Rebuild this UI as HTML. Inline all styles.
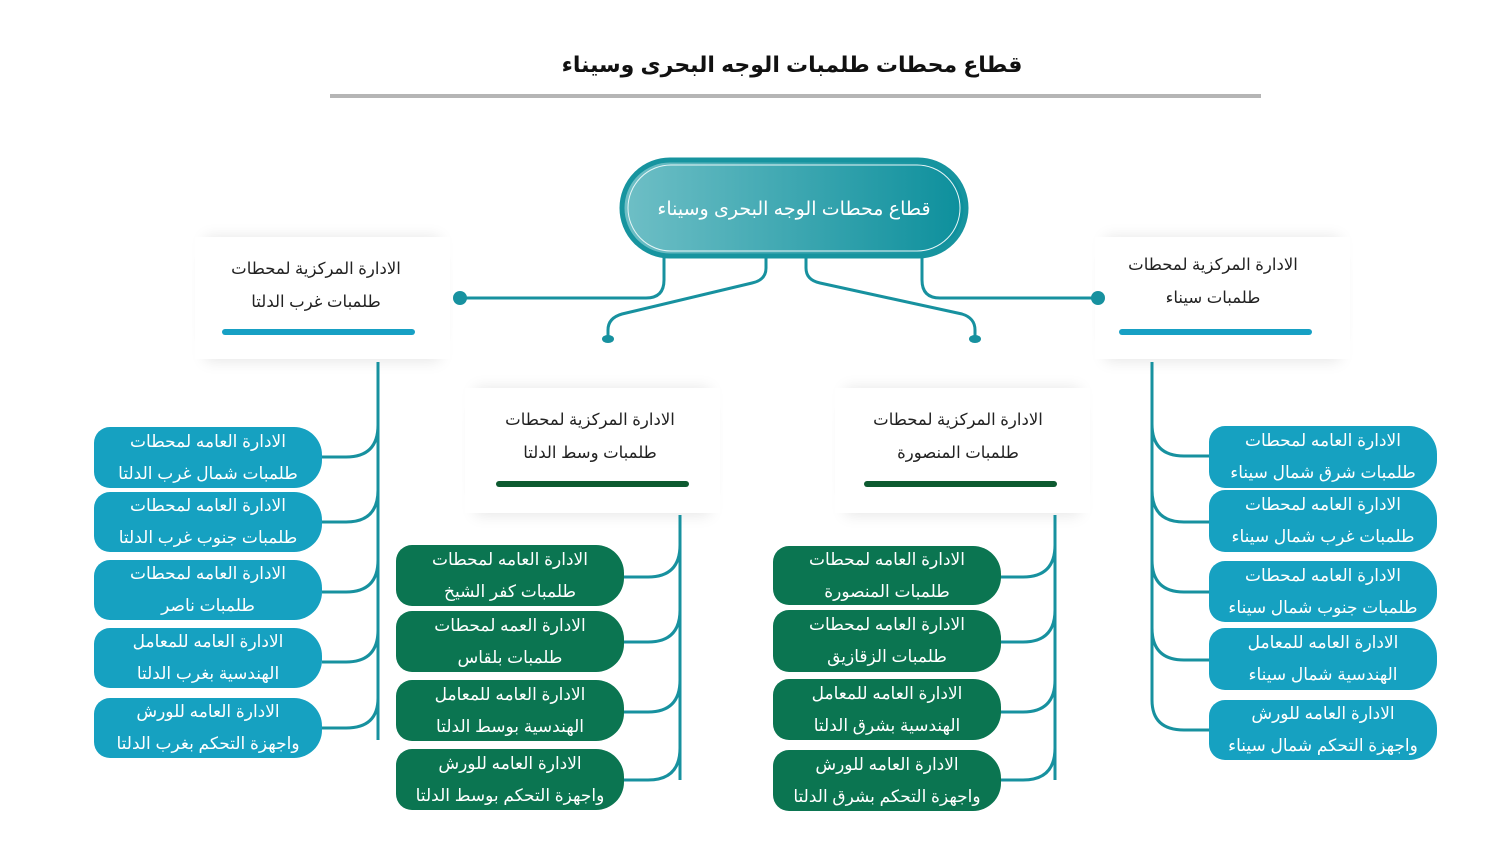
<!DOCTYPE html>
<html><head><meta charset="utf-8"><style>
body{margin:0;width:1500px;height:844px;background:#fff;position:relative;overflow:hidden;font-family:"Liberation Sans","DejaVu Sans",sans-serif}
.a{position:absolute}
.b{position:absolute;width:228px;color:#fff;font-size:17px;line-height:32px;text-align:center;border-radius:16px 28px 28px 16px;direction:rtl;display:flex;flex-direction:column;justify-content:center}
.bl{background:#16a1c1}.gr{background:#0b7551}
.h{position:absolute;text-align:center;direction:rtl;font-size:16.5px;line-height:33px;color:#222}
.panel{position:absolute;background:#fff;box-shadow:0 -10px 14px -10px rgba(0,0,0,.10),0 12px 14px -10px rgba(0,0,0,.10)}
.bar{position:absolute;height:6px;border-radius:3px}
</style></head><body>
<div class="a" style="left:0;width:1584px;top:52px;text-align:center;font-size:22px;font-weight:bold;direction:rtl;color:#111">قطاع محطات طلمبات الوجه البحرى وسيناء</div>
<div class="a" style="left:330px;top:94px;width:931px;height:4px;background:#b5b5b5"></div>

<div class="panel" style="left:195px;top:237px;width:255px;height:122px"></div>
<div class="panel" style="left:1095px;top:237px;width:255px;height:122px"></div>
<div class="panel" style="left:465px;top:388px;width:255px;height:125px"></div>
<div class="panel" style="left:835px;top:388px;width:255px;height:125px"></div>

<svg class="a" style="left:0;top:0" width="1500" height="844">
<defs><linearGradient id="g" x1="0" x2="1"><stop offset="0" stop-color="#6fbfc6"/><stop offset="1" stop-color="#0c8f9c"/></linearGradient></defs>
<g fill="none" stroke="#17919f" stroke-width="3">
<path d="M664 257 V280 Q664 298 646 298 H460"/>
<path d="M766 257 V268 Q766 280 752 283 L622 314 Q608 318 608 330 V339"/>
<path d="M806 257 V268 Q806 280 820 283 L962 314 Q975 318 975 330 V339"/>
<path d="M922 257 V280 Q922 298 940 298 H1098"/>
<path d="M378 362 V740"/>
<path d="M378 425 Q378 457 346 457 H322 M378 490 Q378 522 346 522 H322 M378 560 Q378 592 346 592 H322 M378 630 Q378 662 346 662 H322 M378 698 Q378 728 346 728 H322"/>
<path d="M680 515 V780"/>
<path d="M680 545 Q680 577 648 577 H624 M680 610 Q680 642 648 642 H624 M680 680 Q680 712 648 712 H624 M680 748 Q680 780 648 780 H624"/>
<path d="M1055 515 V780"/>
<path d="M1055 545 Q1055 577 1023 577 H1000 M1055 610 Q1055 642 1023 642 H1000 M1055 680 Q1055 712 1023 712 H1000 M1055 748 Q1055 780 1023 780 H1000"/>
<path d="M1152 362 V700 Q1152 730 1184 730 H1209"/>
<path d="M1152 424 Q1152 456 1184 456 H1209 M1152 490 Q1152 522 1184 522 H1209 M1152 560 Q1152 592 1184 592 H1209 M1152 628 Q1152 660 1184 660 H1209"/>
</g>
<g fill="#17919f"><circle cx="460" cy="298" r="7"/><circle cx="1098" cy="298" r="7"/><ellipse cx="608" cy="339" rx="6" ry="4"/><ellipse cx="975" cy="339" rx="6" ry="4"/></g>
<rect x="622" y="160" width="344" height="96" rx="48" fill="url(#g)" stroke="#17949f" stroke-width="5"/>
<rect x="628" y="165" width="332" height="86" rx="43" fill="none" stroke="#e8f6f7" stroke-width="1"/>
<text x="794" y="215" fill="#fff" font-size="19" letter-spacing="1.5" text-anchor="middle" font-family="Liberation Sans, DejaVu Sans, sans-serif" direction="rtl">قطاع محطات الوجه البحرى وسيناء</text>
</svg>

<div class="h" style="left:196px;width:240px;top:253px">الادارة المركزية لمحطات<br>طلمبات غرب الدلتا</div>
<div class="bar" style="left:222px;top:329px;width:193px;background:#17a0c4"></div>
<div class="h" style="left:1093px;width:240px;top:249px">الادارة المركزية لمحطات<br>طلمبات سيناء</div>
<div class="bar" style="left:1119px;top:329px;width:193px;background:#17a0c4"></div>
<div class="h" style="left:470px;width:240px;top:404px">الادارة المركزية لمحطات<br>طلمبات وسط الدلتا</div>
<div class="bar" style="left:496px;top:481px;width:193px;background:#0d5a30"></div>
<div class="h" style="left:838px;width:240px;top:404px">الادارة المركزية لمحطات<br>طلمبات المنصورة</div>
<div class="bar" style="left:864px;top:481px;width:193px;background:#0d5a30"></div>

<div class="b bl" style="left:94px;top:427px;height:61px">الادارة العامه لمحطات<br>طلمبات شمال غرب الدلتا</div>
<div class="b bl" style="left:94px;top:492px;height:60px">الادارة العامه لمحطات<br>طلمبات جنوب غرب الدلتا</div>
<div class="b bl" style="left:94px;top:560px;height:60px">الادارة العامه لمحطات<br>طلمبات ناصر</div>
<div class="b bl" style="left:94px;top:628px;height:60px">الادارة العامه للمعامل<br>الهندسية بغرب الدلتا</div>
<div class="b bl" style="left:94px;top:698px;height:60px">الادارة العامه للورش<br>واجهزة التحكم بغرب الدلتا</div>

<div class="b gr" style="left:396px;top:545px;height:61px">الادارة العامه لمحطات<br>طلمبات كفر الشيخ</div>
<div class="b gr" style="left:396px;top:611px;height:61px">الادارة العمه لمحطات<br>طلمبات بلقاس</div>
<div class="b gr" style="left:396px;top:680px;height:61px">الادارة العامه للمعامل<br>الهندسية بوسط الدلتا</div>
<div class="b gr" style="left:396px;top:749px;height:61px">الادارة العامه للورش<br>واجهزة التحكم بوسط الدلتا</div>

<div class="b gr" style="left:773px;top:546px;height:59px">الادارة العامه لمحطات<br>طلمبات المنصورة</div>
<div class="b gr" style="left:773px;top:610px;height:62px">الادارة العامه لمحطات<br>طلمبات الزقازيق</div>
<div class="b gr" style="left:773px;top:679px;height:61px">الادارة العامه للمعامل<br>الهندسية بشرق الدلتا</div>
<div class="b gr" style="left:773px;top:750px;height:61px">الادارة العامه للورش<br>واجهزة التحكم بشرق الدلتا</div>

<div class="b bl" style="left:1209px;top:426px;height:62px">الادارة العامه لمحطات<br>طلمبات شرق شمال سيناء</div>
<div class="b bl" style="left:1209px;top:490px;height:62px">الادارة العامه لمحطات<br>طلمبات غرب شمال سيناء</div>
<div class="b bl" style="left:1209px;top:561px;height:61px">الادارة العامه لمحطات<br>طلمبات جنوب شمال سيناء</div>
<div class="b bl" style="left:1209px;top:628px;height:62px">الادارة العامه للمعامل<br>الهندسية شمال سيناء</div>
<div class="b bl" style="left:1209px;top:700px;height:60px">الادارة العامه للورش<br>واجهزة التحكم شمال سيناء</div>
</body></html>
